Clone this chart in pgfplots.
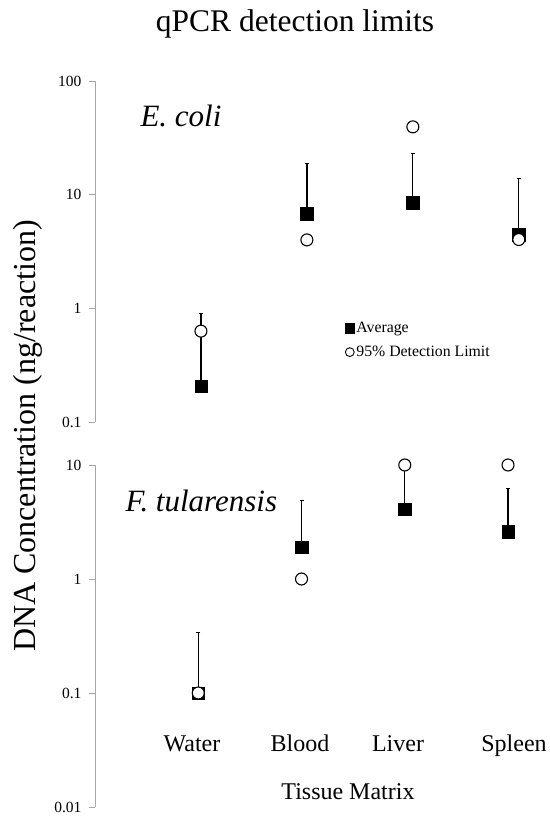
\documentclass[border=0pt]{standalone}
\usepackage{pgfplots}
\pgfplotsset{compat=1.18}
\usepackage{fontspec}
\setmainfont{Liberation Serif}
\pgfplotsset{
 avg/.style={only marks, mark=square*, mark size=6.3pt, mark options={fill=black, draw=black, line width=0.3pt}},
 lim/.style={only marks, mark=*, mark size=6pt, mark options={fill=white, draw=black, line width=1.1pt}},
 bar/.style={black, line width=1.2pt, mark=none, forget plot},
 cap/.style={only marks, mark=-, mark size=2pt, mark options={black, line width=1pt}, forget plot},
}
\begin{document}
\begin{tikzpicture}
\path[use as bounding box] (0pt,0pt) rectangle (549pt,818pt);
% title and labels
\node[anchor=base, font=\fontsize{31.5}{36}\selectfont] at (295pt,786pt) {qPCR detection limits};
\node[anchor=base, rotate=90, font=\fontsize{32}{38}\selectfont] at (35pt,382pt) {DNA Concentration (ng/reaction)};

% top panel: E. coli
\begin{axis}[ymode=log, scale only axis, anchor=south west,
  axis x line=none, axis y line*=left,
  axis line style={black!35, line width=0.8pt},
  xmin=0, clip=false,
  tick align=outside, major tick length=6pt,
  ytick style={black!35, line width=0.8pt},
  yminorticks=false,
  yticklabel style={font=\fontsize{15.5}{18}\selectfont, xshift=-4pt},
  at={(95pt,396pt)}, width=445pt, height=341pt, xmax=4.2,
  ymin=0.1, ymax=100, ytick={0.1,1,10,100}, yticklabels={0.1,1,10,100},
  legend style={at={(0.555,0.305)}, anchor=north west, draw=none, fill=none,
    font=\fontsize{15.8}{18}\selectfont, row sep=8pt},
  legend cell align=left,
  /pgf/number format/assume math mode=true]
\addlegendimage{only marks, mark=square*, mark size=4.6pt, mark options={fill=black, draw=black}}
\addlegendentry{Average}
\addlegendimage{only marks, mark=*, mark size=4.4pt, mark options={fill=white, draw=black, line width=0.9pt}}
\addlegendentry{95\% Detection Limit}
% upper error bars (average to upper bound)
\addplot[bar] coordinates {(1,0.207) (1,0.90)};
\addplot[bar] coordinates {(2,6.8) (2,18.7)};
\addplot[bar] coordinates {(3,8.5) (3,22.9)};
\addplot[bar] coordinates {(4,4.46) (4,13.8)};
\addplot[cap] coordinates {(1,0.90) (2,18.7) (3,22.9) (4,13.8)};
% averages
\addplot[avg, forget plot] coordinates {(1,0.207) (2,6.8) (3,8.5) (4,4.46)};
% 95% detection limit
\addplot[lim, forget plot] coordinates {(1,0.63) (2,4.0) (3,39.5) (4,4.03)};
\end{axis}

% bottom panel: F. tularensis
\begin{axis}[ymode=log, scale only axis, anchor=south west,
  axis x line=none, axis y line*=left,
  axis line style={black!35, line width=0.8pt},
  xmin=0, clip=false,
  tick align=outside, major tick length=6pt,
  ytick style={black!35, line width=0.8pt},
  yminorticks=false,
  yticklabel style={font=\fontsize{15.5}{18}\selectfont, xshift=-4pt},
  at={(95pt,11pt)}, width=444pt, height=342pt, xmax=4.3,
  ymin=0.01, ymax=10, ytick={0.01,0.1,1,10}, yticklabels={0.01,0.1,1,10},
  /pgf/number format/assume math mode=true]
\addplot[bar] coordinates {(1,0.1) (1,0.336)};
\addplot[bar] coordinates {(2,1.9) (2,4.9)};
\addplot[bar] coordinates {(3,4.1) (3,9.5)};
\addplot[bar] coordinates {(4,2.6) (4,6.2)};
\addplot[cap] coordinates {(1,0.336) (2,4.9) (3,9.5) (4,6.2)};
\addplot[avg] coordinates {(1,0.1) (2,1.9) (3,4.1) (4,2.6)};
\addplot[lim] coordinates {(1,0.1) (2,1.0) (3,10) (4,10)};
\end{axis}

\node[anchor=base west, font=\fontsize{31}{36}\selectfont\itshape] at (137pt,691pt) {E. coli};
\node[anchor=base west, font=\fontsize{31}{36}\selectfont\itshape] at (122pt,306pt) {F. tularensis};

\foreach \lab/\xx in {Water/192, Blood/300, Liver/398, Spleen/514}
  \node[anchor=base, font=\fontsize{24}{28}\selectfont] at (\xx pt,66pt) {\lab};
\node[anchor=base, font=\fontsize{24}{28}\selectfont] at (348pt,18pt) {Tissue Matrix};
\end{tikzpicture}
\end{document}
